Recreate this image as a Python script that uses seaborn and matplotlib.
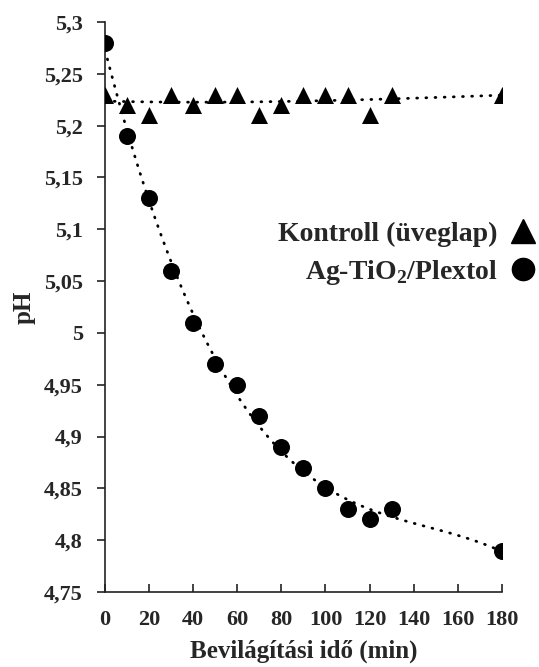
import numpy as np
import pandas as pd
import matplotlib
matplotlib.use("Agg")
import matplotlib.pyplot as plt
import seaborn as sns
from matplotlib.lines import Line2D
from matplotlib.ticker import FuncFormatter, MultipleLocator

# Illumination time (min)
time_min = [0, 10, 20, 30, 40, 50, 60, 70, 80, 90, 100, 110, 120, 130, 180]
# pH of the control (glass plate)
ph_control = [5.23, 5.22, 5.21, 5.23, 5.22, 5.23, 5.23, 5.21, 5.22, 5.23, 5.23, 5.23, 5.21, 5.23, 5.23]
# pH over the Ag-TiO2/Plextol coating
ph_coating = [5.28, 5.19, 5.13, 5.06, 5.01, 4.97, 4.95, 4.92, 4.89, 4.87, 4.85, 4.83, 4.82, 4.83, 4.79]

label_control = "Kontroll (üveglap)"
label_coating = "Ag-TiO$_\\mathbf{2}$/Plextol"

df = pd.DataFrame({"t": time_min, "control": ph_control, "coating": ph_coating})

sns.set_theme(style="ticks")
plt.rcParams["font.family"] = ["Liberation Serif", "DejaVu Serif"]
plt.rcParams["font.weight"] = "bold"
plt.rcParams["mathtext.fontset"] = "custom"
plt.rcParams["mathtext.rm"] = "Liberation Serif:bold"
plt.rcParams["mathtext.bf"] = "Liberation Serif:bold"

fig = plt.figure(figsize=(5.39, 6.67), dpi=100)
ax = fig.add_axes([0.195, 0.1124, 0.736, 0.8546])

dot_kws = dict(color="black", lw=2.0, ls=(0, (0.3, 3.0)), dash_capstyle="round")

# polynomial trend lines
sns.regplot(data=df, x="t", y="control", order=3, ci=None, scatter=False,
            truncate=True, line_kws=dot_kws, ax=ax)
sns.regplot(data=df, x="t", y="coating", order=3, ci=None, scatter=False,
            truncate=True, line_kws=dot_kws, ax=ax)

sns.scatterplot(data=df, x="t", y="control", marker="^", s=150, color="black",
                edgecolor="black", linewidth=0, ax=ax, zorder=3)
sns.scatterplot(data=df, x="t", y="coating", marker="o", s=150, color="black",
                edgecolor="black", linewidth=0, ax=ax, zorder=3)

ax.set_xlim(0, 180)
ax.set_ylim(4.75, 5.3)
ax.xaxis.set_major_locator(MultipleLocator(20))
ax.yaxis.set_major_locator(MultipleLocator(0.05))

def comma_fmt(v, pos):
    s = f"{v:.2f}".rstrip("0").rstrip(".")
    return s.replace(".", ",")

ax.yaxis.set_major_formatter(FuncFormatter(comma_fmt))

for side in ("top", "right"):
    ax.spines[side].set_visible(False)
for side in ("left", "bottom"):
    ax.spines[side].set_linewidth(1.2)
    ax.spines[side].set_color("#222222")

ax.tick_params(axis="y", direction="out", length=6, width=1.2, color="#222222",
               labelsize=16, pad=10)
ax.tick_params(axis="x", direction="in", length=6, width=1.2, color="#222222",
               labelsize=16, pad=13)
for lab in ax.get_xticklabels() + ax.get_yticklabels():
    lab.set_fontweight("bold")

ax.set_xlabel("Bevilágítási idő (min)", fontsize=18, fontweight="bold", labelpad=7)
ax.set_ylabel("pH", fontsize=18, fontweight="bold", labelpad=6)

handles = [
    Line2D([], [], marker="^", color="black", ls="", markersize=17),
    Line2D([], [], marker="o", color="black", ls="", markersize=16),
]
leg = ax.legend(handles, [label_control, label_coating], loc="center right",
                bbox_to_anchor=(1.088, 0.593), frameon=False, markerfirst=False,
                prop={"family": "Liberation Serif", "weight": "bold", "size": 20},
                handlelength=1.0, handletextpad=0.4, labelspacing=0.4,
                borderpad=0, borderaxespad=0)

fig.savefig("out.png", dpi=100)
